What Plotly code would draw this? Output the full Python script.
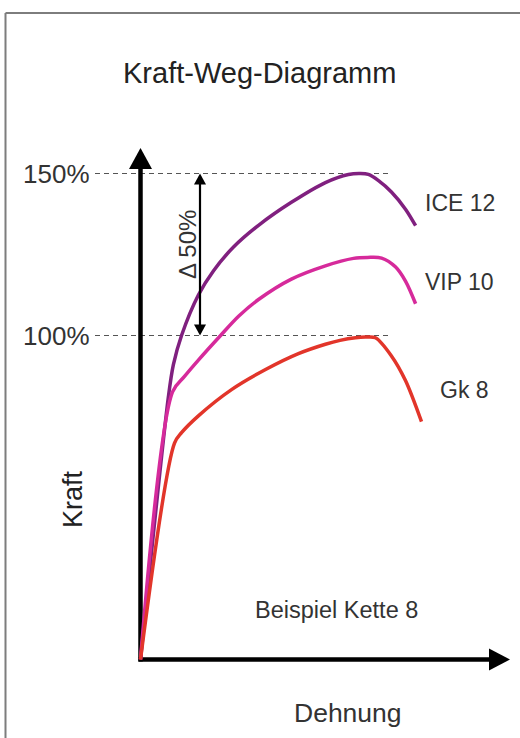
import plotly.graph_objects as go

# ---- data: Dehnung (relative units) vs. Kraft (% of Gk 8 breaking force) ----
ice12_dehnung = [0, 9.96, 11.7, 14.6, 20.6, 26.0, 33.1, 42.0, 53.7, 65.8, 74.0, 78.3,
                 81.1, 84.7, 89.3, 94.3, 97.9]
ice12_kraft = [0, 81.3, 91.0, 100.0, 112.5, 120.0, 127.3, 134.0, 141.1, 147.2, 149.7, 150,
               149.7, 147.8, 144.3, 139.0, 133.9]

vip10_dehnung = [0, 11.4, 15.5, 20.6, 28.5, 35.0, 42.0, 53.7, 65.8, 75.8, 80.8, 85.8,
                 90.7, 94.3, 97.9]
vip10_kraft = [0, 82.6, 87.2, 92.4, 100.0, 106.0, 111.1, 117.4, 121.5, 123.8, 124.1, 123.9,
               121.2, 116.8, 109.8]

gk8_dehnung = [0, 12.1, 14.6, 20.6, 32.4, 44.5, 56.2, 65.8, 71.0, 76.5, 80.0, 83.6,
               89.3, 94.3, 100]
gk8_kraft = [0, 66.8, 70.0, 75.2, 83.3, 89.5, 94.4, 97.3, 98.5, 99.3, 99.5, 99.3,
             93.7, 86.1, 73.4]

series_names = ["ICE 12", "VIP 10", "Gk 8"]
series_colors = ["#80207f", "#d62a9b", "#e2352a"]
reference_levels = [150, 100]
reference_labels = ["150%", "100%"]
delta_label = "\u0394 50%"

# ---- canvas & scale ----
W, H = 520, 738
ORIGIN_PX = (140.5, 659.5)
PX_PER_X = 2.81
PX_PER_Y = 3.24
x_range = [-ORIGIN_PX[0] / PX_PER_X, (W - ORIGIN_PX[0]) / PX_PER_X]
y_range = [-(H - ORIGIN_PX[1]) / PX_PER_Y, ORIGIN_PX[1] / PX_PER_Y]


def dx(p):
    return p / PX_PER_X


def dy(p):
    return p / PX_PER_Y


def px_x(p):
    return p / W


def px_y(p):
    return 1 - p / H


def arrow_head(tx, ty, direction, length_px, width_px):
    """Filled triangle with its tip at (tx, ty) in data units."""
    if direction == "up":
        pts = [(tx, ty), (tx - dx(width_px / 2), ty - dy(length_px)),
               (tx + dx(width_px / 2), ty - dy(length_px))]
    elif direction == "down":
        pts = [(tx, ty), (tx - dx(width_px / 2), ty + dy(length_px)),
               (tx + dx(width_px / 2), ty + dy(length_px))]
    else:  # right
        pts = [(tx, ty), (tx - dx(length_px), ty + dy(width_px / 2)),
               (tx - dx(length_px), ty - dy(width_px / 2))]
    return "M {} {} L {} {} L {} {} Z".format(*[v for p in pts for v in p])


fig = go.Figure()

for xs, ys, name, col in zip([ice12_dehnung, vip10_dehnung, gk8_dehnung],
                             [ice12_kraft, vip10_kraft, gk8_kraft],
                             series_names, series_colors):
    fig.add_trace(go.Scatter(x=xs, y=ys, mode="lines", name=name,
                             line=dict(color=col, width=3.5, shape="spline", smoothing=0.9),
                             hoverinfo="skip"))

shapes = []
# outer frame (left and top edges)
frame = dict(color="#7d7d7d", width=2)
shapes.append(dict(type="line", xref="paper", yref="paper", x0=px_x(5.5), x1=px_x(5.5),
                   y0=px_y(13), y1=0, line=frame))
shapes.append(dict(type="line", xref="paper", yref="paper", x0=px_x(5.5), x1=1,
                   y0=px_y(13), y1=px_y(13), line=frame))

# dashed reference levels
for lvl in reference_levels:
    shapes.append(dict(type="line", xref="x", yref="y", x0=dx(95 - ORIGIN_PX[0]),
                       x1=dx(390 - ORIGIN_PX[0]), y0=lvl, y1=lvl, layer="below",
                       line=dict(color="#555555", width=1.2, dash="5px,4px")))

# axes with arrow heads
axis_top = dy(ORIGIN_PX[1] - 148)
axis_right = dx(510 - ORIGIN_PX[0])
axis_line = dict(color="#000000", width=4.5)
shapes.append(dict(type="line", xref="x", yref="y", x0=0, x1=0, y0=-dy(2),
                   y1=axis_top - dy(15), line=axis_line, layer="below"))
shapes.append(dict(type="line", xref="x", yref="y", x0=-dx(2), x1=axis_right - dx(15),
                   y0=0, y1=0, line=axis_line, layer="below"))
shapes.append(dict(type="path", xref="x", yref="y", fillcolor="#000000", line=dict(width=0),
                   path=arrow_head(0, axis_top, "up", 21, 23)))
shapes.append(dict(type="path", xref="x", yref="y", fillcolor="#000000", line=dict(width=0),
                   path=arrow_head(axis_right, 0, "right", 21, 22)))

# 50 % span marker between the two reference levels
span_x = dx(200 - ORIGIN_PX[0])
hi, lo = max(reference_levels), min(reference_levels)
shapes.append(dict(type="line", xref="x", yref="y", x0=span_x, x1=span_x,
                   y0=lo + dy(8), y1=hi - dy(8), line=dict(color="#000000", width=2.2)))
shapes.append(dict(type="path", xref="x", yref="y", fillcolor="#000000", line=dict(width=0),
                   path=arrow_head(span_x, hi, "up", 11, 12)))
shapes.append(dict(type="path", xref="x", yref="y", fillcolor="#000000", line=dict(width=0),
                   path=arrow_head(span_x, lo, "down", 11, 12)))

annotations = []
sans = "Liberation Sans, Arial, sans-serif"
txt = "#333333"


def label(text, x, y, size, color=txt, xanchor="center", angle=0, yref="paper"):
    return dict(text=text, xref="paper", yref=yref, x=x, y=y, xanchor=xanchor,
                yanchor="middle", textangle=angle, showarrow=False,
                font=dict(family=sans, size=size, color=color))


annotations.append(label("Kraft-Weg-Diagramm", px_x(259.5), px_y(73), 29, "#222222"))
for lvl, lab in zip(reference_levels, reference_labels):
    annotations.append(label(lab, px_x(92), lvl, 26, xanchor="right", yref="y"))
annotations.append(label(delta_label, px_x(188), px_y(245), 24, angle=-90))
annotations.append(label("Kraft", px_x(73), px_y(499), 27, "#222222", angle=-90))

label_pos = [(423, 203), (423, 282), (438, 390)]
for name, (lx, ly) in zip(series_names, label_pos):
    annotations.append(label(name, px_x(lx), px_y(ly), 23, xanchor="left"))

annotations.append(label("Beispiel Kette 8", px_x(336), px_y(610), 23.5))
annotations.append(label("Dehnung", px_x(348), px_y(713), 26.5))

fig.update_layout(
    width=W, height=H, autosize=False,
    margin=dict(l=0, r=0, t=0, b=0, pad=0),
    paper_bgcolor="#ffffff", plot_bgcolor="#ffffff",
    showlegend=False,
    xaxis=dict(range=x_range, visible=False, fixedrange=True),
    yaxis=dict(range=y_range, visible=False, fixedrange=True),
    shapes=shapes, annotations=annotations,
)

fig.write_html("out.html", config={"displayModeBar": False})
